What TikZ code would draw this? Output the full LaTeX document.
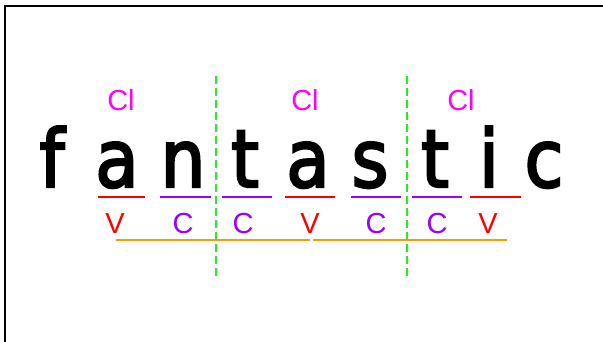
\documentclass[tikz,border=0pt]{standalone}
\usepackage{fontspec}
\setmainfont{Liberation Sans}
\newfontfamily\bigfont[FakeStretch=0.88,FakeBold=3]{DejaVu Sans}
\definecolor{clmag}{HTML}{FF00FF}
\definecolor{vred}{HTML}{FF0000}
\definecolor{cpur}{HTML}{9900FF}
\definecolor{sgreen}{HTML}{22EE22}
\definecolor{sorange}{HTML}{FF9900}
\begin{document}
\begin{tikzpicture}[x=1pt,y=-1pt,
  letter/.style={font=\bigfont\fontsize{80}{80}\selectfont, anchor=base, inner sep=0pt, text=black},
  cllabel/.style={font=\fontsize{29}{29}\selectfont, text=clmag, inner sep=0pt},
  vlabel/.style={font=\fontsize{29}{29}\selectfont, text=vred, inner sep=0pt},
  clabel/.style={font=\fontsize{29}{29}\selectfont, text=cpur, inner sep=0pt},
  vline/.style={draw=vred, line width=2pt},
  cline/.style={draw=cpur, line width=2pt},
  oline/.style={draw=sorange, line width=2pt},
  splitline/.style={draw=sgreen, line width=2pt, dash pattern=on 8pt off 4pt},
  frameline/.style={draw=black, line width=2pt}]
\useasboundingbox (0,0) rectangle (603,342);
\draw[frameline] (5,342) -- (5,6) -- (604,6);
% letters
\node[letter] (l1) at (52,187) {f};
\node[letter] (l2) at (117,187) {a};
\node[letter] (l3) at (183,187) {n};
\node[letter] (l4) at (245,187) {t};
\node[letter] (l5) at (308,187) {a};
\node[letter] (l6) at (370,187) {s};
\node[letter] (l7) at (435,187) {t};
\node[letter] (l8) at (489,187) {i};
\node[letter] (l9) at (544,187) {c};
% Cl labels
\node[cllabel] (cl1) at (121,100) {Cl};
\node[cllabel] (cl2) at (305,100) {Cl};
\node[cllabel] (cl3) at (461,100) {Cl};
% underlines
\draw[vline] (98,197) -- (145,197);
\draw[cline] (160,197) -- (211,197);
\draw[cline] (222,197) -- (272,197);
\draw[vline] (285,197) -- (335,197);
\draw[cline] (351,197) -- (401,197);
\draw[cline] (412,197) -- (462,197);
\draw[vline] (470,197) -- (521,197);
% V/C labels
\node[vlabel] (v1) at (115,224) {V};
\node[clabel] (c1) at (183,224) {C};
\node[clabel] (c2) at (243,224) {C};
\node[vlabel] (v2) at (310,224) {V};
\node[clabel] (c3) at (376,224) {C};
\node[clabel] (c4) at (437,224) {C};
\node[vlabel] (v3) at (488,224) {V};
% orange lines
\coordinate (o1a) at (116,240);
\coordinate (o1b) at (310,240);
\coordinate (o2a) at (313,240);
\coordinate (o2b) at (507,240);
\draw[oline] (o1a) -- (o1b);
\draw[oline] (o2a) -- (o2b);
% green split lines
\coordinate (g1t) at (216,76);
\coordinate (g1b) at (216,280);
\coordinate (g2t) at (407,76);
\coordinate (g2b) at (407,280);
\draw[splitline] (g1t) -- (g1b);
\draw[splitline] (g2t) -- (g2b);
\end{tikzpicture}
\end{document}
